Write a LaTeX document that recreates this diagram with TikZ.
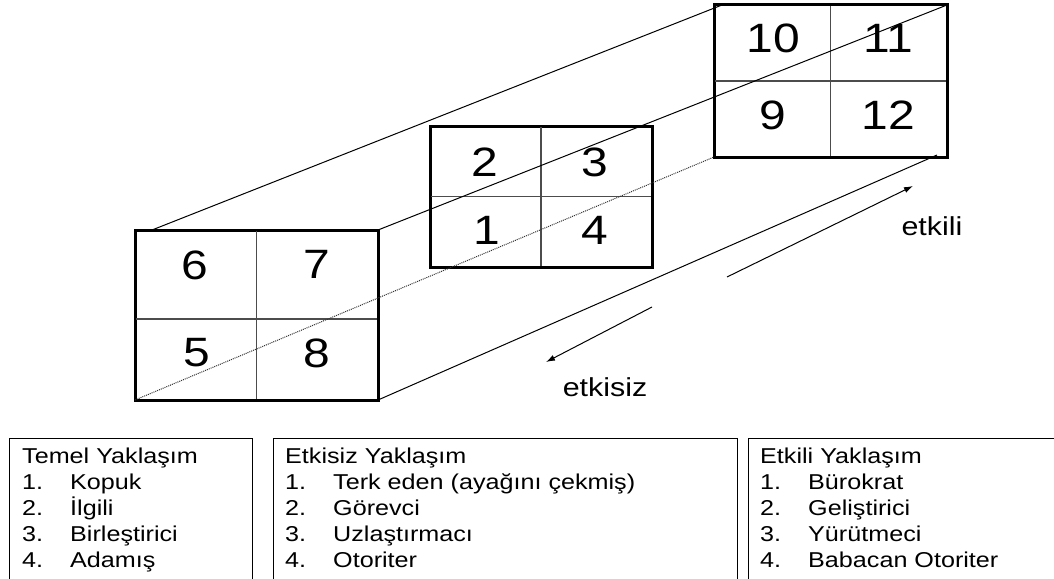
\documentclass[tikz,border=0pt]{standalone}
\usepackage{fontspec}
\setmainfont{Liberation Sans}
\newfontfamily\stfont[FakeStretch=1.17]{Liberation Sans}
\usetikzlibrary{arrows.meta}
\begin{document}
\begin{tikzpicture}[x=1pt,y=-1pt,
  frame/.style={draw, line width=3pt, inner sep=0pt, outer sep=0pt},
  cellline/.style={draw=black!70, line width=1.3pt, shorten >=1pt, shorten <=1pt},
  pedge/.style={line width=1pt},
  hidden/.style={line width=1pt, densely dotted, black!80},
  num/.style={font=\stfont\fontsize{41}{41}\selectfont, inner sep=0pt},
  lbl/.style={font=\stfont\fontsize{26}{30}\selectfont, inner sep=0pt},
  listbox/.style={draw, line width=1.3pt, inner sep=0pt, anchor=north west},
  listtext/.style={font=\stfont\fontsize{21.5}{26}\selectfont, inner sep=0pt, anchor=base west},
  arr/.style={line width=1pt, -{Latex[length=9pt,width=6pt]}}
]
\useasboundingbox (0,0) rectangle (1054,578);
\clip (0,0) rectangle (1054,578);

% frames
\node[frame, minimum width=243pt, minimum height=170pt] (front) at (256.5,315) {};
\node[frame, minimum width=222pt, minimum height=141pt] (mid) at (541,196.5) {};
\node[frame, minimum width=233pt, minimum height=152pt] (back) at (830.5,81) {};

% cell lines
\draw[cellline] (front.north) -- (front.south);
\draw[cellline] ([yshift=-4pt]front.west) -- ([yshift=-4pt]front.east);
\draw[cellline] (mid.north) -- (mid.south);
\draw[cellline] (mid.west) -- (mid.east);
\draw[cellline] (back.north) -- (back.south);
\draw[cellline] (back.west) -- (back.east);

% perspective edges
\draw[pedge] ([xshift=17pt]front.north west) -- ([xshift=8pt]back.north west);
\draw[pedge] (front.north east) -- (back.north east);
\draw[pedge] (front.south east) -- ([xshift=-10pt,yshift=2pt]back.south east);
\draw[hidden] (front.south west) -- (back.south west);

% numbers
\node[num] (n6) at (195,265) {6};
\node[num] (n7) at (317,264) {7};
\node[num] (n5) at (197,353) {5};
\node[num] (n8) at (317,353) {8};
\node[num] (n2) at (485,162) {2};
\node[num] (n3) at (595,162) {3};
\node[num] (n1) at (487,230) {1};
\node[num] (n4) at (595,230) {4};
\node[num] (n10) at (773,38) {10};
\node[num] (n11) at (888,38) {11};
\node[num] (n9) at (773,115) {9};
\node[num] (n12) at (888,115) {12};

% arrows
\coordinate (a1s) at (727,277);
\coordinate (a1e) at (913,186);
\coordinate (a2s) at (652,307);
\coordinate (a2e) at (546,362);
\draw[arr] (a1s) -- (a1e);
\draw[arr] (a2s) -- (a2e);
\node[lbl] (etkili) at (932,226) {etkili};
\node[lbl] (etkisiz) at (605,387) {etkisiz};

% bottom boxes
\node[listbox, minimum width=243pt, minimum height=170pt] (b1) at (9,438) {};
\node[listbox, minimum width=464pt, minimum height=170pt] (b2) at (273,438) {};
\node[listbox, minimum width=330pt, minimum height=170pt] (b3) at (748,438) {};

\node[listtext] (t1) at (22,463) {\begin{tabular}[t]{@{}l@{}}Temel Yaklaşım\\
\makebox[48pt][l]{1.}Kopuk\\
\makebox[48pt][l]{2.}İlgili\\
\makebox[48pt][l]{3.}Birleştirici\\
\makebox[48pt][l]{4.}Adamış\end{tabular}};
\node[listtext] (t2) at (285,463) {\begin{tabular}[t]{@{}l@{}}Etkisiz Yaklaşım\\
\makebox[48pt][l]{1.}Terk eden (ayağını çekmiş)\\
\makebox[48pt][l]{2.}Görevci\\
\makebox[48pt][l]{3.}Uzlaştırmacı\\
\makebox[48pt][l]{4.}Otoriter\end{tabular}};
\node[listtext] (t3) at (760,463) {\begin{tabular}[t]{@{}l@{}}Etkili Yaklaşım\\
\makebox[48pt][l]{1.}Bürokrat\\
\makebox[48pt][l]{2.}Geliştirici\\
\makebox[48pt][l]{3.}Yürütmeci\\
\makebox[48pt][l]{4.}Babacan Otoriter\end{tabular}};
\end{tikzpicture}
\end{document}
